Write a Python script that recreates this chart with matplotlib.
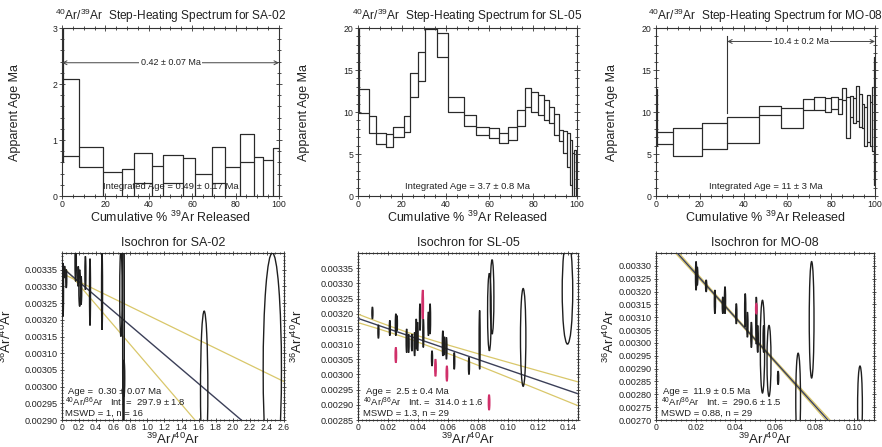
import numpy as np
import matplotlib
matplotlib.use("Agg")
import matplotlib.pyplot as plt
from matplotlib.patches import Rectangle, Ellipse
from matplotlib.ticker import MultipleLocator, FixedLocator

plt.rcParams['font.family'] = ['Liberation Sans', 'DejaVu Sans']
plt.rcParams['mathtext.fontset'] = 'custom'
plt.rcParams['mathtext.rm'] = 'Liberation Sans'
plt.rcParams['mathtext.it'] = 'Liberation Sans:italic'
plt.rcParams['mathtext.bf'] = 'Liberation Sans:bold'

INK = '#222222'
FIT = '#3b3f58'
ENV = '#d9c76a'
REJ = '#d0306a'

# ---------------- step-heating spectra ----------------
# cumulative % 39Ar boundaries, apparent age (Ma) and 2-sigma error
sa02_edges = [0, 0.4, 7.7, 19.1, 27.7, 33.2, 41.6, 46.7, 55.6, 61.3, 69.2, 75.2,
              82.0, 88.7, 92.6, 97.2, 100]
sa02_age = [1.9, 1.405, 0.69, 0.20, 0.22, 0.50, 0.25, 0.49, 0.31, 0.17, 0.56,
            0.23, 0.85, 0.33, 0.30, 0.40]
sa02_err = [1.3, 0.685, 0.18, 0.23, 0.26, 0.26, 0.29, 0.25, 0.36, 0.22, 0.32,
            0.28, 0.25, 0.37, 0.34, 0.46]

sl05_edges = [0, 0.4, 5.2, 8.2, 12.7, 15.8, 20.8, 23.8, 27.6, 30.6, 36.2, 41.0,
              48.4, 53.7, 59.8, 64.3, 68.6, 72.4, 76.2, 79.2, 82.2, 84.8, 87.1,
              89.4, 91.7, 93.6, 95.4, 96.7, 97.7, 98.5, 99.4, 100]
sl05_age = [19.0, 11.35, 8.48, 6.83, 6.585, 7.615, 8.54, 13.225, 15.4, 24.95,
            17.95, 10.9, 8.95, 7.755, 7.46, 6.865, 7.46, 9.25, 11.75, 11.2,
            10.8, 10.225, 9.65, 8.55, 7.18, 6.44, 5.48, 3.985, 2.5, 2.7, 2.5]
sl05_err = [7.0, 1.45, 1.02, 0.63, 0.755, 0.635, 0.96, 1.475, 1.7, 5.05,
            1.45, 0.9, 0.65, 0.495, 0.59, 0.595, 0.79, 0.95, 1.15, 1.2,
            1.2, 1.175, 0.95, 1.25, 0.68, 1.34, 1.98, 2.685, 2.6, 2.8, 2.7]

mo08_edges = [0, 0.3, 7.6, 20.9, 32.5, 46.8, 56.9, 66.9, 72.3, 77.3, 79.9, 82.9,
              84.9, 86.7, 88.4, 89.9, 91.3, 92.8, 94.1, 95.1, 96.3, 97.6, 98.5,
              99.4, 100]
mo08_age = [9.35, 6.93, 6.465, 7.145, 7.82, 10.15, 9.275, 10.9, 11.0, 10.85,
            11.1, 10.655, 12.15, 9.35, 10.65, 10.2, 11.035, 10.135, 9.55,
            8.275, 9.2, 8.55, 9.2, 8.95]
mo08_err = [3.35, 0.73, 1.665, 1.585, 1.55, 0.55, 1.225, 0.7, 0.8, 0.85, 0.7,
            0.895, 0.75, 2.45, 1.25, 1.5, 2.065, 1.965, 1.45, 2.275, 2.8, 2.65,
            3.8, 7.65]

# ---------------- isochron data ----------------
# 39Ar/40Ar, 36Ar/40Ar, half-width (x), half-height (y) of error ellipses
sa02_x = [0.012, 0.031, 0.05, 0.16, 0.19, 0.207, 0.223, 0.274, 0.328, 0.469,
          0.69, 0.72, 0.725, 1.665, 2.463]
sa02_y = [0.00329, 0.003343, 0.003323, 0.00337, 0.00333, 0.003295, 0.003288,
          0.00334, 0.003283, 0.003285, 0.00328, 0.00320, 0.003025, 0.002988,
          0.00305]
sa02_sx = [0.006, 0.006, 0.006, 0.008, 0.006, 0.01, 0.008, 0.006, 0.006, 0.006,
           0.014, 0.01, 0.01, 0.043, 0.107]
sa02_sy = [0.00008, 0.0000175, 0.0000275, 0.000055, 0.00003, 0.000055,
           0.0000425, 0.00005, 0.0001, 0.000115, 0.00013, 0.0004, 0.000055,
           0.000238, 0.00035]

sl05_x = [0.0096, 0.0136, 0.0212, 0.0252, 0.0259, 0.0324, 0.0337, 0.0359,
          0.0377, 0.0388, 0.0397, 0.0413, 0.0435, 0.0469, 0.048, 0.0493,
          0.0565, 0.0576, 0.0589, 0.0641, 0.0739, 0.081, 0.0875, 0.0893,
          0.110, 0.1395]
sl05_y = [0.0032025, 0.003141, 0.003153, 0.003164, 0.003169, 0.003111,
          0.0031025, 0.003105, 0.0031, 0.003133, 0.003125, 0.003189, 0.003136,
          0.003167, 0.003183, 0.003053, 0.0031025, 0.003094, 0.003086,
          0.0030445, 0.003028, 0.003114, 0.0032055, 0.0032555, 0.003122,
          0.003275]
sl05_sx = [0.00035] * 22 + [0.0012, 0.0012, 0.0018, 0.0035]
sl05_sy = [0.0000195, 0.000022, 0.000025, 0.000036, 0.000025, 0.000039,
           0.0000305, 0.000028, 0.000039, 0.00005, 0.000047, 0.000044,
           0.000047, 0.000039, 0.00005, 0.000025, 0.0000415, 0.00003,
           0.000036, 0.0000275, 0.000028, 0.000097, 0.0001275, 0.0001225,
           0.000161, 0.000175]
sl05_rej_x = [0.0252, 0.0431, 0.0516, 0.0592, 0.0873]
sl05_rej_y = [0.003064, 0.0032305, 0.003022, 0.003003, 0.002908]
sl05_rej_sy = [0.000025, 0.0000475, 0.000028, 0.000025, 0.000025]

mo08_x = [0.0202, 0.0208, 0.0253, 0.0297, 0.0337, 0.0348, 0.0405, 0.045,
          0.0461, 0.0481, 0.0506, 0.0513, 0.0537, 0.0543, 0.057, 0.0616,
          0.0717, 0.0785, 0.1029]
mo08_y = [0.003261, 0.00326, 0.003222, 0.00316, 0.0031465, 0.0031665,
          0.0031135, 0.0031265, 0.003071, 0.0030315, 0.003087, 0.0030155,
          0.0029855, 0.0030155, 0.00293, 0.002864, 0.00278, 0.00309, 0.002755]
mo08_sx = [0.0003] * 12 + [0.0011, 0.0003, 0.001, 0.0003, 0.0012, 0.0012, 0.0012]
mo08_sy = [0.000056, 0.000036, 0.000023, 0.000046, 0.0000325, 0.0000525,
           0.0000395, 0.0000655, 0.000049, 0.0000495, 0.000092, 0.0000525,
           0.0001805, 0.0000525, 0.000138, 0.000026, 0.00018, 0.0002265,
           0.000155]
mo08_rej_x = [0.0506]
mo08_rej_y = [0.0031335]
mo08_rej_sy = [0.0000195]

# isochron fits: 36/40 intercept, slope
sa02_fit = (1 / 297.9, -0.0002176)
sa02_bounds = [(0.003364, -0.000298), (0.003339, -0.0001246)]
sl05_fit = (1 / 314.0, -0.001695)
sl05_env = (0.03, 1.0e-5, 3.25e-4)   # centroid x, min half-width, slope sigma
mo08_fit = (1 / 290.6, -0.00855)
mo08_env = (0.045, 4.0e-6, 1.9e-4)

fig = plt.figure(figsize=(8.82, 4.47), dpi=100)

top_pos = [(0.0703, 0.5615, 0.246, 0.3758),
           (0.4059, 0.5615, 0.2483, 0.3758),
           (0.7438, 0.5615, 0.2483, 0.3758)]
bot_pos = [(0.0703, 0.0604, 0.2517, 0.3736),
           (0.4059, 0.0604, 0.2494, 0.3736),
           (0.7438, 0.0604, 0.2472, 0.3736)]


def style_axes(ax, labelsize):
    for s in ax.spines.values():
        s.set_linewidth(0.8)
        s.set_color('#333333')
    ax.tick_params(which='both', direction='inout', top=True, right=True,
                   width=0.6, colors='#333333', labelcolor=INK,
                   labelsize=labelsize, pad=1.5)
    ax.tick_params(which='major', length=4)
    ax.tick_params(which='minor', length=2.2)


def spectrum(ax, edges, age, err, ymax, ymajor, yminor, name, ylab_x,
             integ, plateau=None):
    edges = np.asarray(edges)
    age = np.asarray(age)
    err = np.asarray(err)
    lo, hi = age - err, age + err
    for i in range(len(age)):
        ax.add_patch(Rectangle((edges[i], lo[i]), edges[i + 1] - edges[i],
                               hi[i] - lo[i], fill=False, ec='#2a2a2a', lw=0.8))
    ax.stairs(hi, edges, baseline=None, color='#2a2a2a', lw=0.8)
    ax.stairs(lo, edges, baseline=None, color='#2a2a2a', lw=0.8)
    ax.set_xlim(0, 100)
    ax.set_ylim(0, ymax)
    ax.xaxis.set_major_locator(MultipleLocator(20))
    ax.xaxis.set_minor_locator(MultipleLocator(5))
    ax.yaxis.set_major_locator(MultipleLocator(ymajor))
    ax.yaxis.set_minor_locator(MultipleLocator(yminor))
    style_axes(ax, 6.3)
    ax.tick_params(axis='x', pad=1.0)
    ax.set_title(r'$^{40}$Ar/$^{39}$Ar  Step-Heating Spectrum for ' + name,
                 fontsize=8.6, color=INK, pad=5.5)
    ax.set_ylabel('Apparent Age Ma', fontsize=9, color=INK)
    ax.yaxis.set_label_coords(ylab_x, 0.5)
    ax.set_xlabel(r'Cumulative % $^{39}$Ar Released', fontsize=9, color=INK)
    ax.xaxis.set_label_coords(0.5, -0.085)
    ax.text(0.5, 0.055, integ, transform=ax.transAxes, ha='center',
            va='center', fontsize=6.8, color=INK)
    if plateau is not None:
        x0, yarr, label, mark = plateau
        ax.annotate('', xy=(100, yarr), xytext=(x0, yarr),
                    arrowprops=dict(arrowstyle='<->', lw=0.7, color='#444444',
                                    shrinkA=0, shrinkB=0,
                                    mutation_scale=7))
        ax.text((x0 + 100) / 2, yarr, label, ha='center', va='center',
                fontsize=6.5, color=INK,
                bbox=dict(fc='white', ec='none', pad=1.0))
        if mark is not None:
            ax.plot([x0, x0], mark, color='#333333', lw=0.8)


def isochron(ax, xs, ys, sxs, sys_, rej, fit, env, xmax, xmajor, xminor,
             yticks, name, ylab_x, lines, xfmt):
    ylo, yhi = yticks[0], yticks[-1] + 0.00005
    xg = np.linspace(0, xmax, 400)
    a, b = fit
    yfit = a + b * xg
    if env[0] == 'lines':
        for ai, bi in env[1]:
            ax.plot(xg, ai + bi * xg, color=ENV, lw=0.9, zorder=2)
    else:
        xc, w0, sb = env[1]
        w = np.sqrt(w0 ** 2 + ((xg - xc) * sb) ** 2)
        ax.plot(xg, yfit + w, color=ENV, lw=0.9, zorder=2)
        ax.plot(xg, yfit - w, color=ENV, lw=0.9, zorder=2)
    ax.plot(xg, yfit, color=FIT, lw=1.0, zorder=3)
    for x, y, sx, sy in zip(xs, ys, sxs, sys_):
        ax.add_patch(Ellipse((x, y), 2 * sx, 2 * sy, fill=False,
                             ec='#1e1e1e', lw=1.0, zorder=4))
    if rej is not None:
        rx, ry, rsy = rej
        for x, y, sy in zip(rx, ry, rsy):
            ax.add_patch(Ellipse((x, y), 2 * 0.0003 * xmax / 0.11, 2 * sy,
                                 fill=False, ec=REJ, lw=1.2, zorder=4))
    ax.set_xlim(0, xmax)
    ax.set_ylim(ylo, yhi)
    ax.xaxis.set_major_locator(MultipleLocator(xmajor))
    ax.xaxis.set_minor_locator(MultipleLocator(xminor))
    ax.xaxis.set_major_formatter(xfmt)
    ax.yaxis.set_major_locator(FixedLocator(yticks))
    ax.yaxis.set_minor_locator(MultipleLocator(0.00001))
    ax.yaxis.set_major_formatter(lambda v, p: f'{v:.5f}')
    style_axes(ax, 6.6)
    ax.tick_params(axis='x', labelsize=6.2, pad=1.0)
    ax.tick_params(which='major', length=3)
    ax.tick_params(which='minor', length=1.8)
    ax.set_title('Isochron for ' + name, fontsize=9, color=INK, pad=5)
    ax.set_ylabel(r'$^{36}$Ar/$^{40}$Ar', fontsize=9.5, color=INK)
    ax.yaxis.set_label_coords(ylab_x, 0.5)
    ax.set_xlabel(r'$^{39}$Ar/$^{40}$Ar', fontsize=9.5, color=INK)
    ax.xaxis.set_label_coords(0.5, -0.068)
    (t1, x1), (t2, x2), (t3, x3) = lines
    ax.text(x1, 0.168, t1, transform=ax.transAxes, fontsize=6.8, color=INK,
            va='center', zorder=6)
    ax.text(x2, 0.108, t2, transform=ax.transAxes, fontsize=6.8, color=INK,
            va='center', zorder=6)
    ax.text(x3, 0.040, t3, transform=ax.transAxes, fontsize=6.8, color=INK,
            va='center', zorder=6)


def fmt1(v, p):
    return '0' if abs(v) < 1e-12 else f'{v:.1f}'


def fmt2(v, p):
    return '0' if abs(v) < 1e-12 else f'{v:.2f}'


ax1 = fig.add_axes(top_pos[0])
spectrum(ax1, sa02_edges, sa02_age, sa02_err, 3, 1, 0.2, 'SA-02', -0.189,
         'Integrated Age = 0.49 ± 0.17 Ma',
         plateau=(0, 2.38, '0.42 ± 0.07 Ma', None))
ax2 = fig.add_axes(top_pos[1])
spectrum(ax2, sl05_edges, sl05_age, sl05_err, 20, 5, 1, 'SL-05', -0.219,
         'Integrated Age = 3.7 ± 0.8 Ma')
ax3 = fig.add_axes(top_pos[2])
spectrum(ax3, mo08_edges, mo08_age, mo08_err, 20, 5, 1, 'MO-08', -0.174,
         'Integrated Age = 11 ± 3 Ma',
         plateau=(32.5, 18.4, '10.4 ± 0.2 Ma', (9.9, 19.05)))

ax4 = fig.add_axes(bot_pos[0])
isochron(ax4, sa02_x, sa02_y, sa02_sx, sa02_sy, None, sa02_fit,
         ('lines', sa02_bounds), 2.6, 0.2, 0.05,
         [0.00290 + 0.00005 * k for k in range(10)], 'SA-02', -0.215,
         [('Age =  0.30 ± 0.07 Ma', 0.027),
          (r'$^{40}$Ar/$^{36}$Ar   Int. =  297.9 ± 1.8', 0.014),
          ('MSWD = 1, n = 16', 0.014)], fmt1)
ax5 = fig.add_axes(bot_pos[1])
isochron(ax5, sl05_x, sl05_y, sl05_sx, sl05_sy,
         (sl05_rej_x, sl05_rej_y, sl05_rej_sy), sl05_fit, ('hyp', sl05_env),
         0.1465, 0.02, 0.0025,
         [0.00285 + 0.00005 * k for k in range(11)], 'SL-05', -0.24,
         [('Age =  2.5 ± 0.4 Ma', 0.036),
          (r'$^{40}$Ar/$^{36}$Ar   Int. =  314.0 ± 1.6', 0.021),
          ('MSWD = 1.3, n = 29', 0.021)], fmt2)
ax6 = fig.add_axes(bot_pos[2])
isochron(ax6, mo08_x, mo08_y, mo08_sx, mo08_sy,
         (mo08_rej_x, mo08_rej_y, mo08_rej_sy), mo08_fit, ('hyp', mo08_env),
         0.11, 0.02, 0.0025,
         [0.00270 + 0.00005 * k for k in range(13)], 'MO-08', -0.18,
         [('Age =  11.9 ± 0.5 Ma', 0.032),
          (r'$^{40}$Ar/$^{36}$Ar   Int. =  290.6 ± 1.5', 0.023),
          ('MSWD = 0.88, n = 29', 0.023)], fmt2)

fig.savefig('out.png', dpi=100, facecolor='white')
